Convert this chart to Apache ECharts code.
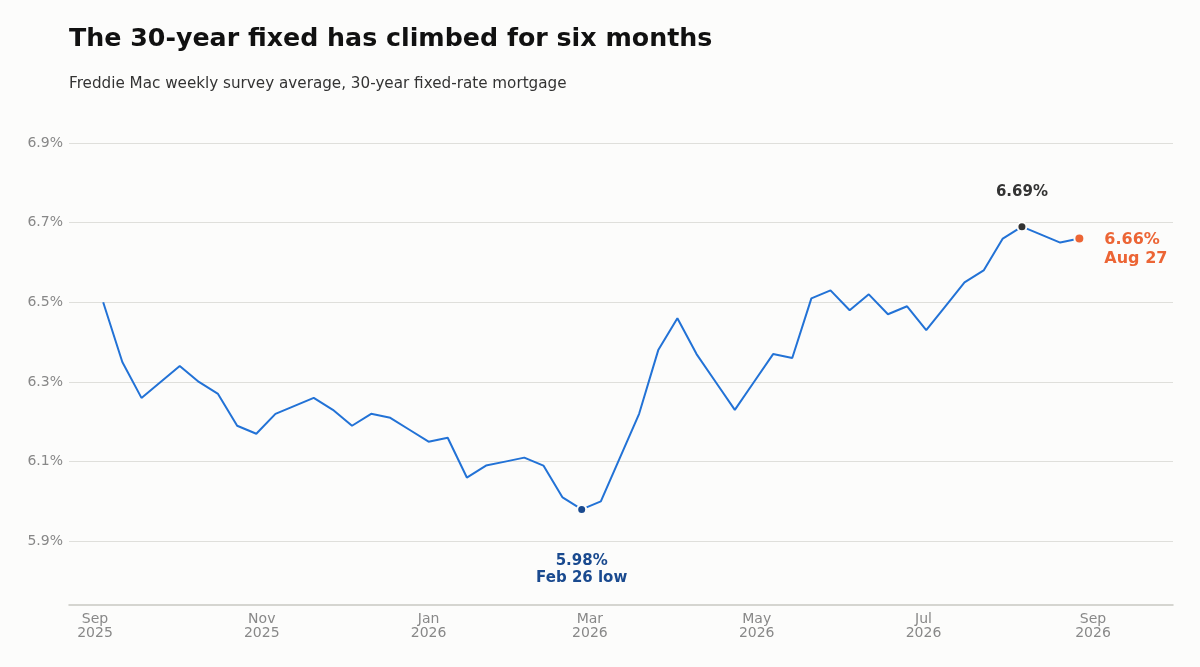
<!DOCTYPE html>
<html>
<head>
    <meta charset="utf-8">
    <title>30-year fixed mortgage rate</title>
    <script src="https://cdn.jsdelivr.net/npm/echarts@6/dist/echarts.min.js"></script>
    <style>
        html, body { margin: 0; padding: 0; background: #fcfcfb; }
        #main { width: 1200px; height: 667px; }
    </style>
</head>
<body>
<div id="main"></div>
<script>
    // weekly survey dates (Thursdays)
    var weeks = [
        '2025-09-04', '2025-09-11', '2025-09-18', '2025-09-25',
        '2025-10-02', '2025-10-09', '2025-10-16', '2025-10-23', '2025-10-30',
        '2025-11-06', '2025-11-13', '2025-11-20', '2025-11-27',
        '2025-12-04', '2025-12-11', '2025-12-18', '2025-12-25',
        '2026-01-01', '2026-01-08', '2026-01-15', '2026-01-22', '2026-01-29',
        '2026-02-05', '2026-02-12', '2026-02-19', '2026-02-26',
        '2026-03-05', '2026-03-12', '2026-03-19', '2026-03-26',
        '2026-04-02', '2026-04-09', '2026-04-16', '2026-04-23', '2026-04-30',
        '2026-05-07', '2026-05-14', '2026-05-21', '2026-05-28',
        '2026-06-04', '2026-06-11', '2026-06-18', '2026-06-25',
        '2026-07-02', '2026-07-09', '2026-07-16', '2026-07-23', '2026-07-30',
        '2026-08-06', '2026-08-13', '2026-08-20', '2026-08-27'
    ];
    // 30-year fixed rate, %
    var rates = [
        6.50, 6.35, 6.26, 6.30,
        6.34, 6.30, 6.27, 6.19, 6.17,
        6.22, 6.24, 6.26, 6.23,
        6.19, 6.22, 6.21, 6.18,
        6.15, 6.16, 6.06, 6.09, 6.10,
        6.11, 6.09, 6.01, 5.98,
        6.00, 6.11, 6.22, 6.38,
        6.46, 6.37, 6.30, 6.23, 6.30,
        6.37, 6.36, 6.51, 6.53,
        6.48, 6.52, 6.47, 6.49,
        6.43, 6.49, 6.55, 6.58, 6.66,
        6.69, 6.67, 6.65, 6.66
    ];
    var lowPoint = ['2026-02-26', 5.98];
    var peakPoint = ['2026-08-06', 6.69];
    var lastPoint = ['2026-08-27', 6.66];

    var yTicks = [5.9, 6.1, 6.3, 6.5, 6.7, 6.9];
    var xTicks = ['2025-09-01', '2025-11-01', '2026-01-01', '2026-03-01', '2026-05-01', '2026-07-01', '2026-09-01'];
    var monthNames = ['Jan', 'Feb', 'Mar', 'Apr', 'May', 'Jun', 'Jul', 'Aug', 'Sep', 'Oct', 'Nov', 'Dec'];

    var bg = '#fcfcfb';
    var font = 'DejaVu Sans';
    var HOUR = 3600 * 1000;

    // 'yyyy-mm-dd' -> local timestamp
    function ts(s) {
        var p = s.split('-');
        return new Date(+p[0], +p[1] - 1, +p[2]).getTime();
    }
    function pt(a) { return [ts(a[0]), a[1]]; }

    var lineData = [];
    for (var i = 0; i < weeks.length; i++) {
        lineData.push([ts(weeks[i]), rates[i]]);
    }

    var myChart = echarts.init(document.getElementById('main'));
    var option = {
        backgroundColor: bg,
        animation: false,
        textStyle: { fontFamily: font },
        title: [{
            text: 'The 30-year fixed has climbed for six months',
            left: 69,
            top: 27,
            padding: 0,
            textStyle: { fontSize: 25.3, fontWeight: 'bold', color: '#111', fontFamily: font }
        }, {
            text: 'Freddie Mac weekly survey average, 30-year fixed-rate mortgage',
            left: 69,
            top: 77,
            padding: 0,
            textStyle: { fontSize: 15.2, fontWeight: 'normal', color: '#333', fontFamily: font }
        }],
        grid: { left: 69, right: 27, top: 143, bottom: 62 },
        xAxis: {
            type: 'value',
            min: ts('2025-08-22') + 12 * HOUR,
            max: ts('2026-09-30') + 6 * HOUR,
            axisLine: { show: true, lineStyle: { color: '#c8c8c2', width: 1.5 } },
            axisTick: { show: false, customValues: xTicks.map(ts) },
            splitLine: { show: false },
            axisLabel: {
                customValues: xTicks.map(ts),
                color: '#888',
                fontSize: 14,
                margin: 7,
                lineHeight: 14,
                formatter: function (v) {
                    var d = new Date(v);
                    return monthNames[d.getMonth()] + '\n' + d.getFullYear();
                }
            }
        },
        yAxis: {
            type: 'value',
            min: 5.74,
            max: 6.9,
            axisLine: { show: false },
            axisTick: { show: false, customValues: yTicks },
            splitLine: { show: true, lineStyle: { color: '#dfdfdb', width: 1 } },
            axisLabel: {
                customValues: yTicks,
                color: '#888',
                fontSize: 14,
                margin: 6,
                padding: [2, 0, 0, 0],
                formatter: function (v) { return v.toFixed(1) + '%'; }
            }
        },
        series: [{
            type: 'line',
            data: lineData,
            symbol: 'none',
            lineStyle: { color: '#2272d6', width: 2 },
            z: 2
        }, {
            type: 'scatter',
            data: [pt(lowPoint)],
            symbolSize: 9,
            itemStyle: { color: '#1a4a8f', borderColor: bg, borderWidth: 2, opacity: 1 },
            label: {
                show: true,
                position: 'bottom',
                distance: 38,
                formatter: '5.98%\nFeb 26 low',
                align: 'center',
                color: '#1a4a8f',
                fontSize: 15,
                fontWeight: 'bold',
                lineHeight: 17
            },
            z: 3
        }, {
            type: 'scatter',
            data: [pt(peakPoint)],
            symbolSize: 9,
            itemStyle: { color: '#333', borderColor: bg, borderWidth: 2, opacity: 1 },
            label: {
                show: true,
                position: 'top',
                distance: 22,
                formatter: '6.69%',
                color: '#333',
                fontSize: 15,
                fontWeight: 'bold'
            },
            z: 3
        }, {
            type: 'scatter',
            data: [pt(lastPoint)],
            symbolSize: 10,
            itemStyle: { color: '#ec6535', borderColor: bg, borderWidth: 2, opacity: 1 },
            label: {
                show: true,
                position: 'right',
                distance: 19,
                offset: [0, 11],
                formatter: '6.66%\nAug 27',
                color: '#ec6535',
                fontSize: 16,
                fontWeight: 'bold',
                lineHeight: 19,
                align: 'left'
            },
            z: 3
        }]
    };
    myChart.setOption(option);
</script>
</body>
</html>
